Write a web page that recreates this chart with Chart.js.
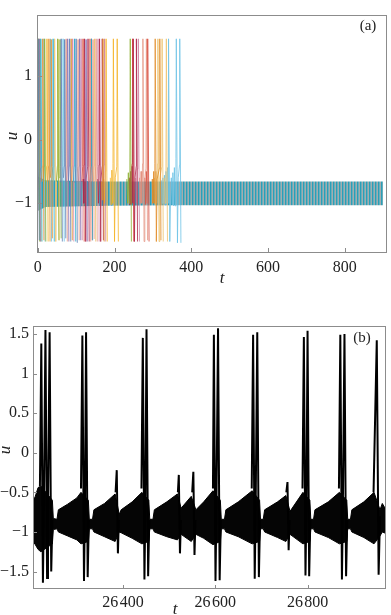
<!DOCTYPE html>
<html>
<head>
<meta charset="utf-8">
<script src="https://cdn.jsdelivr.net/npm/chart.js@4.4.1/dist/chart.umd.min.js"></script>
<style>
  html, body { margin: 0; padding: 0; background: #fff; }
  #wrap { position: relative; width: 391px; height: 615px; overflow: hidden; }
  canvas { position: absolute; left: 0; }
  #chartA { top: 0; }
  #chartB { top: 300px; }
</style>
</head>
<body>
<div id="wrap">
  <canvas id="chartA" width="391" height="290"></canvas>
  <canvas id="chartB" width="391" height="315"></canvas>
</div>
<script>
// ── Panel (a): all units, transient then synchrony ────────────

const xTicksA = [0, 200, 400, 600, 800];
const yTicksA = [-1, 0, 1];

// each unit: [t, u] points around its spikes, null = break
const uBlue = [
  [0,-0.95],[1,1.58],[4,-1.58],[5,null],
  [58,-0.66],[60,-0.42],[61,1.58],[64,-1.6],[65,null],
  [67,-0.6],[69,-0.42],[70,1.57],[73,-1.55],[74,null],
  [80,-0.66],[82,-0.42],[83,1.58],[86,-1.6],[87,null],
  [97,-0.68],[99,-0.45],[100,1.58],[103,-1.62],[104,null]
];
const uOrange = [
  [10,-0.66],[12,-0.42],[13,1.58],[16,-1.58],[17,null],
  [26,-0.66],[28,-0.42],[29,1.58],[32,-1.6],[33,null],
  [33,-0.6],[34.5,-0.42],[35,1.57],[38,-1.55],[39,null],
  [84,-0.66],[86,-0.42],[87,1.58],[90,-1.58],[91,null],
  [166,-0.66],[168,-0.95],[169,-0.4],[170,1.58],[173,-1.6],[174,null],
  [298,-0.62],[300,-1.0],[302,-0.5],[304,-1.0],[305,-0.38],[306,1.58],[309,-1.6],[311,-0.62],[317,-0.45],[318,1.58],[321,-1.58],[322,null]
];
const uGreen = [
  [0,-1.0],[2,1.58],[5,-1.6],[6,null],
  [15,-0.66],[17,-0.42],[18,1.58],[21,-1.6],[22,null],
  [49,-0.66],[51,-0.42],[52,1.58],[55,-1.58],[56,null],
  [56,-0.6],[57.5,-0.45],[58,1.57],[61,-1.55],[62,null],
  [232,-0.62],[234,-1.0],[236,-0.52],[238,-1.0],[240,-0.4],[241,1.58],[244,-1.6],[245,null]
];
const uSalmon = [
  [71,-0.66],[73,-0.42],[74,1.58],[77,-1.6],[78,null],
  [102,-0.66],[104,-0.42],[105,1.57],[108,-1.58],[109,null],
  [132,-0.66],[134,-0.42],[135,1.58],[138,-1.6],[139,null],
  [141,-0.66],[143,-0.45],[144,1.57],[147,-1.56],[148,null],
  [149,-0.66],[151,-0.42],[152,1.58],[155,-1.6],[156,null],
  [265,-0.6],[267,-1.0],[269,-0.5],[271,-1.0],[273,-0.38],[274,1.58],[277,-1.6],[279,-0.62],[282,-0.45],[283,1.58],[286,-1.58],[287,null]
];
const uPurple = [
  [0,-0.8],[3,-0.5],[4,1.58],[7,-1.6],[8,null],
  [75,-0.66],[77,-0.42],[78,1.58],[81,-1.6],[82,null],
  [106,-0.66],[108,-0.42],[109,1.58],[112,-1.58],[113,null],
  [123,-0.66],[125,-0.42],[126,1.57],[129,-1.6],[130,null]
];
const uCrimson = [
  [118,-0.62],[120,-1.0],[121,-0.4],[122,1.58],[125,-1.6],[126,-0.62],[130,-0.42],[131,1.58],[134,-1.6],[135,null],
  [156,-0.62],[158,-1.0],[160,-0.4],[161,1.58],[164,-1.6],[165,-0.62],[167.5,-0.42],[168,1.58],[171,-1.58],[172,null],
  [238,-0.6],[240,-1.02],[242,-0.5],[244,-1.02],[246,-0.42],[247,-1.0],[248,-0.36],[249,1.58],[252,-1.6],[253.5,-0.6],[256.5,-0.42],[257,1.58],[260,-1.6],[261,null]
];
const uCyan = [
  [5,-0.7],[7,-0.45],[8,1.58],[11,-1.6],[12,null],
  [37,-0.66],[39,-0.42],[40,1.58],[43,-1.6],[44,null],
  [93,-0.66],[95,-0.42],[96,1.58],[99,-1.6],[100,null],
  [137,-0.66],[139,-0.42],[140,1.58],[143,-1.58],[144,null]
];
const uGold = [
  [21,-0.66],[23,-0.42],[24,1.58],[27,-1.6],[28,null],
  [172,-0.62],[174,-1.0],[176,-0.5],[177,-0.4],[178,1.58],[181,-1.6],[182,null],
  [189,-0.6],[191,-1.02],[193,-0.48],[195,-1.0],[196,-0.38],[197,1.58],[200,-1.6],[202,-0.6],[206,-0.42],[207,1.58],[210,-1.6],[211,null]
];
const uRed = [
  [115,-0.66],[117,-0.42],[118,1.58],[121,-1.6],[122,null],
  [136,-0.66],[138,-0.42],[139,1.58],[142,-1.58],[143,null],
  [240,-0.62],[242,-1.0],[244,-0.46],[246,-0.38],[247,1.58],[250,-1.6],[251,null],
  [279,-0.6],[281,-1.02],[283,-0.5],[285,-1.0],[286,-0.4],[287,1.58],[290,-1.6],[291,null]
];
const uTan = [
  [2,-0.75],[5,-0.5],[6,1.58],[9,-1.6],[10,null],
  [41,-0.66],[43,-0.42],[44,1.58],[47,-1.6],[49,-0.6],[52.5,-0.42],[53,1.57],[56,-1.58],[57,null],
  [145,-0.66],[147,-0.42],[148,1.58],[151,-1.6],[152,null],
  [304,-0.6],[306,-1.02],[308,-0.5],[310,-1.0],[312,-0.38],[313,1.58],[316,-1.6],[318,-0.6],[323.5,-0.42],[324,1.58],[327,-1.6],[328,null],
  [330,-0.6],[332,-1.0],[334,-0.4],[335,1.58],[338,-1.6],[339,null]
];
const uPink = [
  [88,-0.66],[90,-0.42],[91,1.58],[94,-1.6],[95,null],
  [110,-0.66],[112,-0.42],[113,1.58],[116,-1.58],[117,null],
  [154,-0.66],[156,-0.42],[157,1.58],[160,-1.6],[161,null],
  [171,-0.66],[173,-0.4],[174,1.58],[177,-1.6],[178,null],
  [255,-0.6],[257,-1.0],[259,-0.46],[261,-0.38],[262,1.58],[265,-1.6],[266,null]
];
const uSky = [
  [13,-0.66],[15,-0.42],[16,1.58],[19,-1.6],[20,null],
  [30,-0.66],[32,-0.42],[33,1.58],[36,-1.6],[37,null],
  [63,-0.66],[65,-0.42],[66,1.58],[69,-1.6],[70,null],
  [322,-0.64],[324,-1.0],[326,-0.6],[328,-1.0],[330,-0.56],[332,-1.02],[334,-0.5],[336,-1.02],[338,-0.44],[340,-1.0],[340.5,-0.38],[341,1.58],[344,-1.6],
  [346,-0.95],[348,-0.6],[350,-1.02],[352,-0.52],[354,-1.04],[356,-0.44],[358,-1.04],[360,-0.3],[361,1.58],[364,-1.62],[366,-0.6],[369.5,-0.4],[370,1.58],[373,-1.62],[374,null]
];

const unitSeries = [uBlue, uOrange, uGreen, uSalmon, uPurple, uCrimson, uCyan, uGold, uRed, uTan, uPink, uSky];
const unitColors = [
  'rgba(94,129,181,0.8)',  'rgba(225,140,40,0.8)',  'rgba(143,176,50,0.8)',
  'rgba(226,140,120,0.7)', 'rgba(135,110,175,0.8)', 'rgba(175,40,75,0.8)',
  'rgba(40,170,205,0.8)',  'rgba(245,180,40,0.8)',  'rgba(215,70,55,0.8)',
  'rgba(238,195,110,0.8)', 'rgba(205,120,155,0.7)', 'rgba(110,195,230,0.8)'
];

// envelope of the fast sub-threshold oscillation shared by all units
const bandAT  = [0, 20, 180, 370, 900];
const bandAHi = [-0.58, -0.64, -0.66, -0.66, -0.66];
const bandALo = [-1.12, -1.06, -1.04, -1.03, -1.03];

// ── Panel (b): one unit, long time ────────────────────────────

const xTicksB = [26400, 26600, 26800];
const yTicksB = [-1.5, -1, -0.5, 0, 0.5, 1, 1.5];

const spikesB = [
  [26220,-0.42],[26223,1.38],[26226.5,-1.64],[26228.5,-0.7],[26232,1.55],[26235.5,-1.58],[26237.5,-0.7],[26241,1.52],[26244.5,-1.5],[26247,-0.85],[26248,null],
  [26309,-0.45],[26312,1.48],[26315.5,-1.62],[26317.5,-0.7],[26320,1.52],[26323.5,-1.57],[26326,-0.85],[26327,null],
  [26384,-0.5],[26386.5,-0.22],[26389,-1.27],[26391,-0.85],[26392,null],
  [26440,-0.45],[26443,1.45],[26446.5,-1.6],[26448.5,-0.7],[26451,1.56],[26454.5,-1.56],[26457,-0.85],[26458,null],
  [26519,-0.5],[26521,-0.28],[26523.5,-1.27],[26525.5,-0.85],[26526,null],
  [26550,-0.5],[26552.5,-0.24],[26555,-1.29],[26557,-0.85],[26558,null],
  [26595,-0.45],[26597,1.49],[26600.5,-1.62],[26602.5,-0.7],[26606,1.57],[26609.5,-1.61],[26612,-0.85],[26613,null],
  [26679,-0.45],[26682,1.49],[26685.5,-1.59],[26687.5,-0.7],[26691,1.52],[26694.5,-1.57],[26697,-0.85],[26698,null],
  [26754,-0.5],[26756.5,-0.37],[26759,-1.23],[26761,-0.85],[26762,null],
  [26789,-0.45],[26792,1.46],[26795.5,-1.55],[26797.5,-0.7],[26800,1.54],[26803.5,-1.56],[26806,-0.85],[26807,null],
  [26868,-0.45],[26871,1.49],[26874.5,-1.6],[26876.5,-0.7],[26880,1.5],[26883.5,-1.56],[26886,-0.85],[26887,null],
  [26943,-0.5],[26950,1.42],[26954,-1.54],[26957,-0.8]
];

const bandBT = [
  26205, 26210, 26216, 26222, 26247, 26249, 26257, 26260, 26280, 26300,
  26309, 26325, 26327, 26334, 26337, 26360, 26383, 26392, 26396, 26420,
  26441, 26456, 26458, 26465, 26468, 26495, 26518, 26526, 26548, 26558,
  26575, 26595, 26611, 26613, 26620, 26623, 26650, 26680, 26696, 26698,
  26704, 26707, 26735, 26753, 26762, 26790, 26805, 26807, 26813, 26816,
  26845, 26869, 26885, 26887, 26893, 26896, 26922, 26944, 26957, 26962, 26970
];
const bandBHi = [
  -0.62, -0.55, -0.44, -0.42, -0.6, -0.83, -0.84, -0.72, -0.65, -0.57,
  -0.5, -0.6, -0.84, -0.84, -0.72, -0.64, -0.52, -0.78, -0.72, -0.62,
  -0.5, -0.6, -0.84, -0.84, -0.72, -0.62, -0.52, -0.7, -0.55, -0.72,
  -0.62, -0.48, -0.6, -0.84, -0.84, -0.72, -0.62, -0.48, -0.6, -0.84,
  -0.84, -0.72, -0.62, -0.54, -0.74, -0.5, -0.6, -0.84, -0.84, -0.72,
  -0.62, -0.5, -0.6, -0.84, -0.84, -0.72, -0.62, -0.5, -0.72, -0.64, -0.72
];
const bandBLo = [
  -1.12, -1.16, -1.22, -1.25, -1.15, -0.97, -0.96, -1.0, -1.05, -1.1,
  -1.15, -1.12, -0.96, -0.96, -1.0, -1.06, -1.12, -1.0, -1.01, -1.08,
  -1.15, -1.12, -0.96, -0.96, -1.0, -1.06, -1.1, -1.03, -1.12, -1.03,
  -1.08, -1.16, -1.12, -0.96, -0.96, -1.0, -1.06, -1.15, -1.12, -0.96,
  -0.96, -1.0, -1.07, -1.12, -1.03, -1.15, -1.12, -0.96, -0.96, -1.0,
  -1.07, -1.15, -1.12, -0.96, -0.96, -1.0, -1.07, -1.15, -1.05, -1.0, -1.02
];

// ── Helpers ───────────────────────────────────────────────────

const serif = "'Liberation Serif', 'DejaVu Serif', serif";
const fmtMinus     = v => (v < 0 ? '\u2212' : '') + Math.abs(v);
const fmtThousands = v => String(v).replace(/(\d+)(\d{3})$/, '$1\u200A$2');
const zip = (xs, ys) => xs.map((x, i) => [x, ys[i]]);

function stripes(canvasId, cols) {
  const c = document.createElement('canvas');
  c.width = cols.length; c.height = 1;
  const g = c.getContext('2d');
  cols.forEach((col, i) => { g.fillStyle = col; g.fillRect(i, 0, 1, 1); });
  return document.getElementById(canvasId).getContext('2d').createPattern(c, 'repeat');
}

// frame, inward ticks, axis letters and panel tag
const framePlugin = {
  id: 'frame',
  afterDraw(chart, args, o) {
    const { ctx, chartArea: a, scales: { x, y } } = chart;
    ctx.save();
    ctx.strokeStyle = '#8c8c8c';
    ctx.lineWidth = 1;
    ctx.beginPath();
    x.ticks.forEach(t => {
      const px = Math.round(x.getPixelForValue(t.value)) + 0.5;
      ctx.moveTo(px, a.bottom); ctx.lineTo(px, a.bottom - o.tick);
    });
    y.ticks.forEach(t => {
      const py = Math.round(y.getPixelForValue(t.value)) + 0.5;
      ctx.moveTo(a.left, py); ctx.lineTo(a.left + o.tick, py);
    });
    ctx.stroke();
    ctx.strokeRect(Math.round(a.left) + 0.5, Math.round(a.top) + 0.5,
                   Math.round(a.right - a.left) - 1, Math.round(a.bottom - a.top) - 1);

    ctx.fillStyle = '#222';
    ctx.textAlign = 'center';
    ctx.font = `italic 17px ${serif}`;
    ctx.textBaseline = 'alphabetic';
    ctx.fillText('t', o.tX, o.tY);
    ctx.save();
    ctx.translate(o.uX, o.uY);
    ctx.rotate(-Math.PI / 2);
    ctx.textBaseline = 'middle';
    ctx.fillText('u', 0, 0);
    ctx.restore();
    ctx.font = `15px ${serif}`;
    ctx.textBaseline = 'middle';
    ctx.fillText(o.tag, o.tagX, o.tagY);
    ctx.restore();
  }
};

function axis(min, max, ticks, fmt, size, pad) {
  return {
    type: 'linear', min, max,
    grid:   { display: false, drawTicks: false, tickLength: 0 },
    border: { display: false },
    afterFit: s => { if (s.isHorizontal()) s.height = size; else s.width = size; },
    afterBuildTicks: s => { s.ticks = ticks.map(value => ({ value })); },
    ticks: {
      autoSkip: false, maxRotation: 0, padding: pad, color: '#222',
      font: { family: serif, size: 16 }, callback: fmt
    }
  };
}

const common = {
  responsive: false, animation: false, devicePixelRatio: 1, events: [],
  elements: { point: { radius: 0 }, line: { tension: 0 } }
};

// ── Panel (a) ─────────────────────────────────────────────────

const bandPattern = stripes('chartA', ['#2a9fb8', '#6aaebb', '#a2acae']);

new Chart(document.getElementById('chartA'), {
  type: 'line',
  data: {
    datasets: [
      ...unitSeries.map((d, i) => ({
        data: d, borderColor: unitColors[i], borderWidth: 1, order: 0
      })),
      { data: zip(bandAT, bandAHi), borderWidth: 0, backgroundColor: bandPattern, fill: '+1', order: 1 },
      { data: zip(bandAT, bandALo), borderWidth: 0, order: 1 }
    ]
  },
  options: {
    ...common,
    layout: { padding: { top: 8, right: 4, left: 0, bottom: 0 } },
    plugins: {
      legend: { display: false }, tooltip: { enabled: false },
      frame: { tick: 5, tag: '(a)', tagX: 368, tagY: 26, tX: 222, tY: 283, uX: 13, uY: 136 }
    },
    scales: {
      x: axis(-2, 910, xTicksA, fmtMinus, 37, 5),
      y: axis(-1.78, 1.96, yTicksA, fmtMinus, 37, 5)
    }
  },
  plugins: [framePlugin]
});

// ── Panel (b) ─────────────────────────────────────────────────

new Chart(document.getElementById('chartB'), {
  type: 'line',
  data: {
    datasets: [
      { data: spikesB, borderColor: '#000', borderWidth: 2, order: 0 },
      { data: zip(bandBT, bandBHi), borderColor: '#000', borderWidth: 1, backgroundColor: '#050505', fill: '+1', order: 1 },
      { data: zip(bandBT, bandBLo), borderColor: '#000', borderWidth: 1, order: 1 }
    ]
  },
  options: {
    ...common,
    layout: { padding: { top: 26, right: 5, left: 0, bottom: 0 } },
    plugins: {
      legend: { display: false }, tooltip: { enabled: false },
      frame: { tick: 4, tag: '(b)', tagX: 362, tagY: 38, tX: 175, tY: 314, uX: 6, uY: 150 }
    },
    scales: {
      x: axis(26205, 26970, xTicksB, fmtThousands, 26, 4),
      y: axis(-1.72, 1.6, yTicksB, fmtMinus, 33, 4)
    }
  },
  plugins: [framePlugin]
});
</script>
</body>
</html>
